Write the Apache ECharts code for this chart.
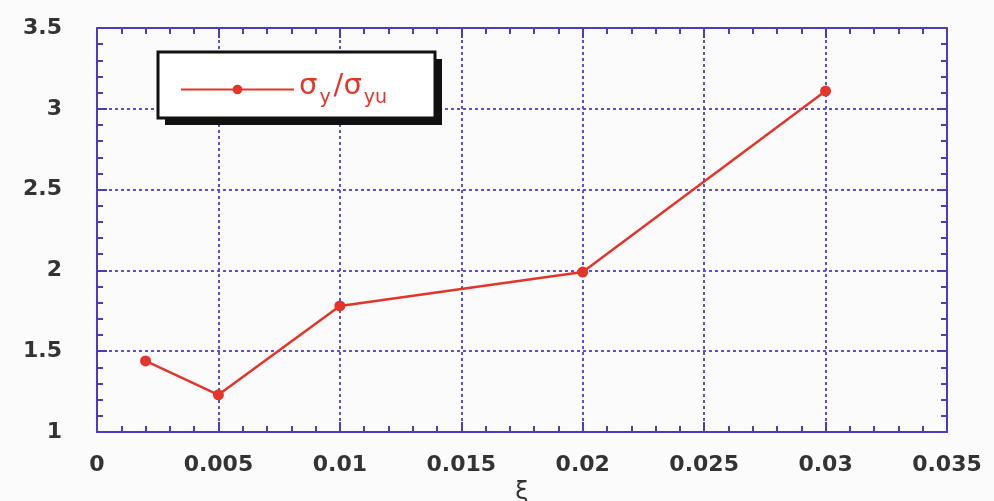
<!DOCTYPE html>
<html>
<head>
<meta charset="utf-8">
<script src="https://cdn.jsdelivr.net/npm/echarts@6/dist/echarts.min.js"></script>
<style>
  html, body { margin: 0; padding: 0; background: #fbfbfb; }
  #chart { width: 994px; height: 501px; }
</style>
</head>
<body>
<div id="chart"></div>
<script>
// data
const xiValues = [0.002, 0.005, 0.01, 0.02, 0.03]
const sigmaRatio = [1.44, 1.23, 1.78, 1.99, 3.11]
const seriesName = 'ratio'

const axisBlue = '#4a3dc4'
const gridBlue = '#5b50d6'
const red = '#e5352b'
const labelFont = { fontSize: 22, fontWeight: 'bold', color: '#333', fontFamily: 'DejaVu Sans' }

const chart = echarts.init(document.getElementById('chart'))

const boxAxis = {
  axisLine: { show: true, onZero: false, lineStyle: { color: axisBlue, width: 2 } },
  axisTick: { show: true, inside: true, length: 10, lineStyle: { color: axisBlue, width: 2 } },
  minorTick: { show: true, splitNumber: 5, length: 6, lineStyle: { color: axisBlue, width: 2 } }
}

const option = {
  backgroundColor: '#fbfbfb',
  animation: false,
  grid: { left: 97, right: 47, top: 28, bottom: 69, outerBoundsMode: 'none' },
  // legend box with its heavy drop shadow
  graphic: [
    { type: 'rect', z: 90, shape: { x: 165, y: 59, width: 277, height: 66 }, style: { fill: '#111' } },
    { type: 'rect', z: 91, shape: { x: 158, y: 52, width: 277, height: 66 }, style: { fill: '#fff', stroke: '#111', lineWidth: 3 } }
  ],
  legend: {
    left: 160,
    top: 54,
    z: 100,
    padding: [18, 10, 10, 20],
    itemWidth: 113,
    itemHeight: 12,
    itemGap: 0,
    data: [seriesName],
    formatter: () => '{s|σ}{sub|y}{s|/σ}{sub|yu}',
    textStyle: {
      color: red,
      rich: {
        s: { fontSize: 29, color: red, fontFamily: 'DejaVu Sans', padding: [0, 2, 6, 0] },
        sub: { fontSize: 19, color: red, fontFamily: 'DejaVu Sans', verticalAlign: 'bottom', padding: [18, 3, 0, 0] }
      }
    }
  },
  xAxis: [
    {
      type: 'value',
      min: 0,
      max: 0.035,
      interval: 0.005,
      name: 'ξ',
      nameLocation: 'middle',
      nameGap: 44,
      nameTextStyle: { fontSize: 24, color: '#333', fontFamily: 'DejaVu Sans' },
      ...boxAxis,
      axisLabel: { ...labelFont, margin: 22 },
      splitLine: { show: true, lineStyle: { color: gridBlue, type: [3, 3], width: 2 } }
    },
    {
      type: 'value',
      position: 'top',
      min: 0,
      max: 0.035,
      interval: 0.005,
      ...boxAxis,
      axisLabel: { show: false },
      splitLine: { show: false }
    }
  ],
  yAxis: [
    {
      type: 'value',
      min: 1,
      max: 3.5,
      interval: 0.5,
      ...boxAxis,
      axisLabel: { ...labelFont, margin: 35 },
      splitLine: { show: true, lineStyle: { color: gridBlue, type: [3, 3], width: 2 } }
    },
    {
      type: 'value',
      position: 'right',
      min: 1,
      max: 3.5,
      interval: 0.5,
      ...boxAxis,
      axisLabel: { show: false },
      splitLine: { show: false }
    }
  ],
  series: [
    {
      name: seriesName,
      type: 'line',
      data: xiValues.map((x, i) => [x, sigmaRatio[i]]),
      symbol: 'circle',
      symbolSize: 11,
      itemStyle: { color: red },
      lineStyle: { color: red, width: 2.5 }
    }
  ]
}

chart.setOption(option)
</script>
</body>
</html>
